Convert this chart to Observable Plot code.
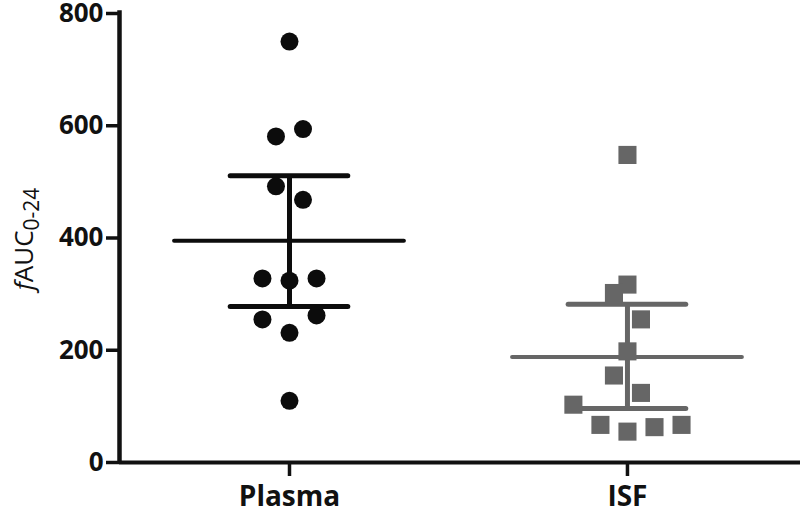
<!DOCTYPE html>
<html>
<head>
<meta charset="utf-8">
<script src="https://cdn.jsdelivr.net/npm/d3@7"></script>
<script src="https://cdn.jsdelivr.net/npm/@observablehq/plot@0.6"></script>
<style>
  html, body { margin: 0; padding: 0; background: #fff; }
  #chart svg { display: block; }
</style>
</head>
<body>
<div id="chart"></div>
<script>
// ---- data ----
const groups = ["Plasma", "ISF"];
const groupColors = ["#0c0c0c", "#666666"];

const plasmaValues = [750, 594, 581, 492, 468, 328, 324, 328, 262, 255, 231, 110];
const plasmaSlots  = [0, 1, -1, -1, 1, -2, 0, 2, 2, -2, 0, 0];

const isfValues = [548, 317, 302, 255, 198, 155, 124, 103, 67, 55, 63, 67];
const isfSlots  = [0, 0, -1, 1, 0, -1, 1, -4, -2, 0, 2, 4];

const means  = [395, 188];
const lowers = [278, 96];
const uppers = [511, 282];

const yTicks = [0, 200, 400, 600, 800];

// ---- build tables ----
const slotStep = 0.04; // horizontal spread of overlapping points, in category units
const points = [
  ...plasmaValues.map((v, i) => ({group: 0, x: 0 + plasmaSlots[i] * slotStep, y: v})),
  ...isfValues.map((v, i) => ({group: 1, x: 1 + isfSlots[i] * slotStep, y: v}))
];
const stats = groups.map((g, i) => ({i, mean: means[i], lo: lowers[i], hi: uppers[i]}));

const meanHalf = 0.34;
const capHalf = 0.174;
const xMin = -0.503, xMax = 1.512;

const svg = Plot.plot({
  width: 800,
  height: 510,
  marginLeft: 119,
  marginRight: 0,
  marginTop: 13,
  marginBottom: 48,
  style: {fontFamily: "'Open Sans', sans-serif", background: "#fff", color: "#111"},
  x: {type: "linear", domain: [xMin, xMax], axis: null},
  y: {domain: [0, 800], axis: null},
  marks: [
    // axes lines
    Plot.ruleY([0], {x1: xMin, x2: xMax, stroke: "#111", strokeWidth: 4}),
    Plot.ruleX([xMin], {y1: -2, y2: 805, stroke: "#111", strokeWidth: 4.5}),
    Plot.axisY({
      ticks: yTicks, tickSize: 13, tickPadding: 3, strokeWidth: 3.5, stroke: "#111",
      fontSize: 26, fontWeight: "bold", fill: "#111", tickFormat: d => d, label: null
    }),
    Plot.axisX({
      ticks: [0, 1], tickSize: 14, tickPadding: 10, strokeWidth: 3.5, stroke: "#111",
      fontSize: 28, fontWeight: "bold", fill: "#111", tickFormat: i => groups[i], label: null
    }),
    // mean lines
    Plot.ruleY(stats, {y: "mean", x1: d => d.i - meanHalf, x2: d => d.i + meanHalf,
      stroke: d => groupColors[d.i], strokeWidth: 4, strokeLinecap: "round"}),
    // error bar caps
    Plot.ruleY(stats, {y: "hi", x1: d => d.i - capHalf, x2: d => d.i + capHalf,
      stroke: d => groupColors[d.i], strokeWidth: 5, strokeLinecap: "round"}),
    Plot.ruleY(stats, {y: "lo", x1: d => d.i - capHalf, x2: d => d.i + capHalf,
      stroke: d => groupColors[d.i], strokeWidth: 5, strokeLinecap: "round"}),
    // error bar stems
    Plot.ruleX(stats, {x: "i", y1: "lo", y2: "hi",
      stroke: d => groupColors[d.i], strokeWidth: 5}),
    // points
    Plot.dot(points.filter(d => d.group === 0), {x: "x", y: "y", r: 9, fill: groupColors[0], stroke: "none"}),
    Plot.dot(points.filter(d => d.group === 1), {x: "x", y: "y", r: 10.2, symbol: "square", fill: groupColors[1], stroke: "none"})
  ]
});

// y-axis title with italic f and subscript
const label = d3.select(svg).append("text")
  .attr("transform", "translate(33,239) rotate(-90)")
  .attr("text-anchor", "middle")
  .attr("font-family", "'Open Sans', sans-serif")
  .attr("font-size", 26)
  .attr("fill", "#111");
label.append("tspan").attr("font-style", "italic").text("f");
label.append("tspan").text("AUC");
label.append("tspan").attr("font-size", 21).attr("dy", 6).text("0-24");

document.getElementById("chart").appendChild(svg);
</script>
</body>
</html>
